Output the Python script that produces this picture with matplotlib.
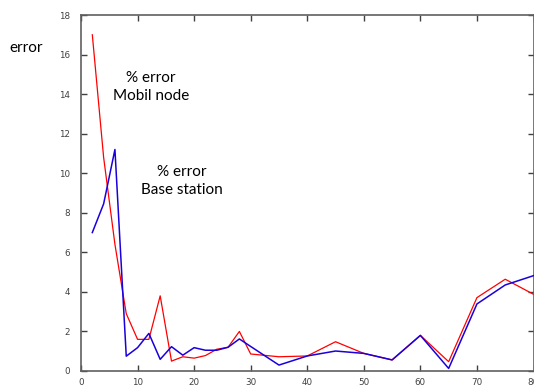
import matplotlib
matplotlib.use('Agg')
import matplotlib.pyplot as plt

# distance steps and percentage error of the two estimates
x_vals = [2, 4, 6, 8, 10, 12, 14, 16, 18, 20, 22, 24, 26, 28, 30,
          35, 40, 45, 50, 55, 60, 65, 70, 75, 80]
err_mobile = [17.0, 10.8, 6.4, 2.9, 1.6, 1.6, 3.8, 0.5, 0.72, 0.65, 0.78, 1.1, 1.2, 2.0, 0.86,
              0.72, 0.76, 1.48, 0.89, 0.56, 1.8, 0.47, 3.71, 4.64, 3.88]
err_base = [7.0, 8.45, 11.2, 0.75, 1.18, 1.9, 0.59, 1.23, 0.8, 1.18, 1.05, 1.05, 1.2, 1.62, 1.24,
            0.3, 0.76, 1.01, 0.89, 0.56, 1.8, 0.13, 3.39, 4.35, 4.82]
x_ticks = list(range(0, 81, 10))
y_ticks = list(range(0, 19, 2))

fig = plt.figure(figsize=(5.34, 3.87), dpi=100)
ax = fig.add_axes([81 / 534, 16 / 387, 452.5 / 534, 356 / 387])

ax.plot(x_vals, err_mobile, color='#ff0000', lw=0.9, zorder=2)
ax.plot(x_vals, err_base, color='#1a00dd', lw=1.1, zorder=3)

ax.set_xlim(0, 80)
ax.set_ylim(0, 18)
ax.set_xticks(x_ticks)
ax.set_yticks(y_ticks)
ax.tick_params(direction='in', length=4, width=1, color='#404040',
               top=True, right=True, labelsize=6.3, labelcolor='#404040')
ax.tick_params(axis='y', pad=8)
ax.tick_params(axis='x', pad=5)
for s in ax.spines.values():
    s.set_color('#606060')
    s.set_linewidth(1.2)

lbl = dict(family='Lato', fontsize=11, color='black', ha='center', va='center',
           linespacing=1.45)
fig.text(151 / 534, 1 - 87 / 387, '% error\nMobil node', **lbl)
fig.text(181.5 / 534, 1 - 181 / 387, '% error\nBase station', **lbl)
fig.text(26 / 534, 1 - 48 / 387, 'error', family='Lato', fontsize=11,
         ha='center', va='center')

fig.savefig('out.png', dpi=100)
